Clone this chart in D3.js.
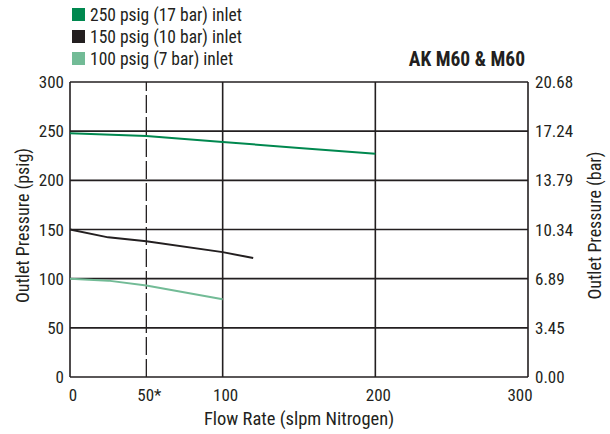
<!DOCTYPE html>
<html>
<head>
<meta charset="utf-8">
<script src="https://cdn.jsdelivr.net/npm/d3@7"></script>
<style>
  body { margin: 0; background: #fff; }
  text { font-family: "Liberation Sans Narrow", "Roboto Condensed", "Liberation Sans", sans-serif; fill: #231f20; }
</style>
</head>
<body>
<div id="chart"></div>
<script>
const flow250 = [0, 50, 100, 150, 200];
const press250 = [248, 245, 239, 233, 227];
const flow150 = [0, 25, 50, 100, 120];
const press150 = [150, 142, 138, 127, 121];
const flow100 = [0, 25, 50, 100];
const press100 = [100, 98, 93, 79];

const xTicks = [0, 50, 100, 200, 300];
const xTickLabels = ["0", "50*", "100", "200", "300"];
const yTicks = [0, 50, 100, 150, 200, 250, 300];
const barTickLabels = ["0.00", "3.45", "6.89", "10.34", "13.79", "17.24", "20.68"];

const legendNames = ["250 psig (17 bar) inlet", "150 psig (10 bar) inlet", "100 psig (7 bar) inlet"];
const colors = ["#00884f", "#231f20", "#72bb96"];

const width = 610, height = 434;
const margin = {top: 82, right: 82, bottom: 57, left: 70};

const svg = d3.select("#chart").append("svg")
    .attr("width", width)
    .attr("height", height);

const x = d3.scaleLinear().domain([0, 300]).range([margin.left, width - margin.right]);
const y = d3.scaleLinear().domain([0, 300]).range([height - margin.bottom, margin.top]);

// horizontal grid
svg.append("g")
    .selectAll("line")
    .data(yTicks)
    .join("line")
    .attr("x1", x(0)).attr("x2", x(300))
    .attr("y1", d => y(d)).attr("y2", d => y(d))
    .attr("stroke", "#231f20")
    .attr("stroke-width", 1.6);

// vertical grid (50 is dashed)
svg.append("g")
    .selectAll("line")
    .data(xTicks)
    .join("line")
    .attr("x1", d => x(d)).attr("x2", d => x(d))
    .attr("y1", y(0)).attr("y2", y(300))
    .attr("stroke", "#231f20")
    .attr("stroke-width", d => d == 50 ? 1.3 : 1.6)
    .attr("stroke-dasharray", d => d == 50 ? "18,4" : null);

// left axis labels
svg.append("g")
    .selectAll("text")
    .data(yTicks)
    .join("text")
    .attr("x", x(0) - 6)
    .attr("y", d => y(d) + 6)
    .attr("text-anchor", "end")
    .attr("font-size", 17)
    .text(d => d);

// right axis labels
svg.append("g")
    .selectAll("text")
    .data(yTicks)
    .join("text")
    .attr("x", x(300) + 7)
    .attr("y", d => y(d) + 6)
    .attr("font-size", 17)
    .text((d, i) => barTickLabels[i]);

// bottom axis labels
svg.append("g")
    .selectAll("text")
    .data(xTicks)
    .join("text")
    .attr("x", (d, i) => x(d) + (i == 0 ? 3 : i == 4 ? -8 : 3))
    .attr("y", y(0) + 24)
    .attr("text-anchor", "middle")
    .attr("font-size", 17)
    .text((d, i) => xTickLabels[i]);

// axis titles
svg.append("text")
    .attr("transform", `translate(29,${(y(0) + y(300)) / 2 - 4}) rotate(-90)`)
    .attr("text-anchor", "middle")
    .attr("font-size", 18)
    .text("Outlet Pressure (psig)");

svg.append("text")
    .attr("transform", `translate(601,${(y(0) + y(300)) / 2 - 4}) rotate(-90)`)
    .attr("text-anchor", "middle")
    .attr("font-size", 18)
    .text("Outlet Pressure (bar)");

svg.append("text")
    .attr("x", (x(0) + x(300)) / 2)
    .attr("y", 425)
    .attr("text-anchor", "middle")
    .attr("font-size", 18.5)
    .text("Flow Rate (slpm Nitrogen)");

svg.append("text")
    .attr("x", x(300) - 3)
    .attr("y", 66)
    .attr("text-anchor", "end")
    .attr("font-size", 19.5)
    .attr("font-weight", "bold")
    .text("AK M60 & M60");

// series
const line = d3.line().x(d => x(d[0])).y(d => y(d[1]));
const series = [
    d3.zip(flow250, press250),
    d3.zip(flow150, press150),
    d3.zip(flow100, press100)
];
svg.append("g")
    .selectAll("path")
    .data(series)
    .join("path")
    .attr("d", line)
    .attr("fill", "none")
    .attr("stroke", (d, i) => colors[i])
    .attr("stroke-width", 2);

// legend
const legend = svg.append("g")
    .selectAll("g")
    .data(legendNames)
    .join("g")
    .attr("transform", (d, i) => `translate(72,${8 + i * 22})`);
legend.append("rect")
    .attr("width", 13).attr("height", 13)
    .attr("fill", (d, i) => colors[i]);
legend.append("text")
    .attr("x", 18).attr("y", 13)
    .attr("font-size", 17.5)
    .text(d => d);
</script>
</body>
</html>
